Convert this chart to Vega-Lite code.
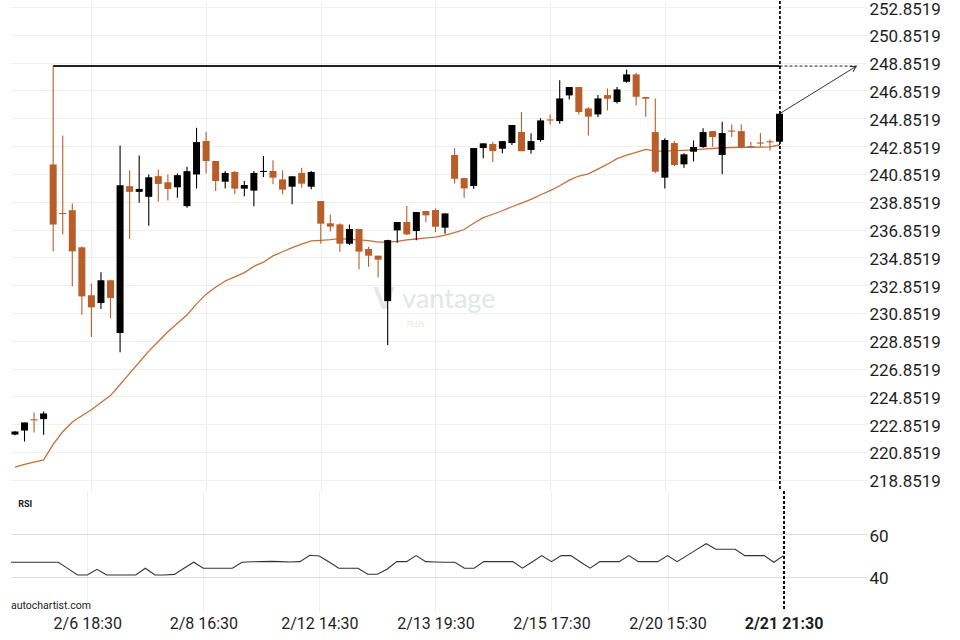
{
  "$schema": "https://vega.github.io/schema/vega-lite/v6.json",
  "padding": {"left": 11, "top": 0, "right": 0, "bottom": 0},
  "spacing": 0,
  "bounds": "flush",
  "background": "#ffffff",
  "config": {
    "font": "Roboto",
    "view": {"stroke": null},
    "concat": {"spacing": 0},
    "axis": {"title": null, "ticks": false, "domain": false, "labelColor": "#1e1e1e", "labelFont": "Roboto"}
  },
  "datasets": {
    "candles": [
      {"i":0,"o":222.1,"h":222.35,"l":222.05,"c":222.32,"ema":219.75,"rsi":46.9},
      {"i":1,"o":222.39,"h":222.97,"l":221.6,"c":222.97,"ema":219.95,"rsi":46.9},
      {"i":2,"o":223.2,"h":223.69,"l":222.25,"c":223.12,"ema":220.12,"rsi":46.9},
      {"i":3,"o":223.21,"h":223.76,"l":222.08,"c":223.62,"ema":220.28,"rsi":46.9},
      {"i":4,"o":241.53,"h":248.61,"l":235.28,"c":237.21,"ema":221.4,"rsi":46.9},
      {"i":5,"o":238.04,"h":243.62,"l":236.49,"c":237.96,"ema":222.3,"rsi":46.9},
      {"i":6,"o":238.24,"h":238.72,"l":232.76,"c":235.28,"ema":223.0,"rsi":43.9},
      {"i":7,"o":235.57,"h":235.64,"l":230.72,"c":232.04,"ema":223.45,"rsi":40.9},
      {"i":8,"o":232.12,"h":232.96,"l":229.11,"c":231.25,"ema":223.88,"rsi":40.9},
      {"i":9,"o":231.56,"h":233.77,"l":231.13,"c":233.2,"ema":224.4,"rsi":43.6},
      {"i":10,"o":233.2,"h":233.24,"l":230.48,"c":231.92,"ema":224.9,"rsi":40.9},
      {"i":11,"o":229.4,"h":242.9,"l":228.03,"c":240.04,"ema":225.7,"rsi":40.9},
      {"i":12,"o":239.97,"h":241.12,"l":236.17,"c":239.56,"ema":226.5,"rsi":40.9},
      {"i":13,"o":239.56,"h":242.18,"l":238.77,"c":239.77,"ema":227.3,"rsi":40.9},
      {"i":14,"o":239.2,"h":240.81,"l":237.13,"c":240.61,"ema":228.1,"rsi":44.1},
      {"i":15,"o":240.69,"h":241.17,"l":238.84,"c":240.13,"ema":228.8,"rsi":40.9},
      {"i":16,"o":240.25,"h":240.81,"l":238.93,"c":239.77,"ema":229.5,"rsi":40.9},
      {"i":17,"o":239.89,"h":240.88,"l":239.13,"c":240.76,"ema":230.1,"rsi":41.2},
      {"i":18,"o":238.53,"h":241.36,"l":238.41,"c":241.05,"ema":230.7,"rsi":44.1},
      {"i":19,"o":240.81,"h":244.17,"l":239.8,"c":243.14,"ema":231.5,"rsi":46.9},
      {"i":20,"o":243.22,"h":243.87,"l":240.89,"c":241.78,"ema":232.2,"rsi":44.1},
      {"i":21,"o":241.78,"h":241.78,"l":239.62,"c":240.34,"ema":232.7,"rsi":44.1},
      {"i":22,"o":240.29,"h":241.06,"l":239.81,"c":240.92,"ema":233.15,"rsi":44.1},
      {"i":23,"o":240.99,"h":241.06,"l":239.38,"c":239.79,"ema":233.45,"rsi":44.1},
      {"i":24,"o":239.79,"h":240.34,"l":239.24,"c":240.05,"ema":233.75,"rsi":46.9},
      {"i":25,"o":239.65,"h":241.06,"l":238.52,"c":240.92,"ema":234.2,"rsi":47.1},
      {"i":26,"o":240.99,"h":242.14,"l":240.63,"c":241.07,"ema":234.5,"rsi":47.2},
      {"i":27,"o":241.06,"h":241.83,"l":240.1,"c":240.58,"ema":234.95,"rsi":47.3},
      {"i":28,"o":240.46,"h":241.11,"l":239.38,"c":239.72,"ema":235.25,"rsi":47.2},
      {"i":29,"o":239.93,"h":240.68,"l":238.66,"c":240.68,"ema":235.55,"rsi":47.0},
      {"i":30,"o":240.92,"h":241.3,"l":239.86,"c":240.15,"ema":235.8,"rsi":47.2},
      {"i":31,"o":239.93,"h":241.06,"l":239.74,"c":240.99,"ema":236.03,"rsi":50.2},
      {"i":32,"o":238.9,"h":238.9,"l":235.83,"c":237.27,"ema":236.07,"rsi":49.8},
      {"i":33,"o":237.3,"h":237.94,"l":236.7,"c":237.06,"ema":236.12,"rsi":47.0},
      {"i":34,"o":237.22,"h":237.3,"l":235.26,"c":235.83,"ema":236.19,"rsi":44.1},
      {"i":35,"o":235.83,"h":237.22,"l":235.74,"c":236.89,"ema":236.15,"rsi":44.1},
      {"i":36,"o":236.89,"h":236.89,"l":233.99,"c":235.26,"ema":236.1,"rsi":44.1},
      {"i":37,"o":235.45,"h":235.62,"l":234.18,"c":234.97,"ema":236.05,"rsi":41.25},
      {"i":38,"o":234.97,"h":234.97,"l":233.39,"c":234.68,"ema":235.95,"rsi":41.25},
      {"i":39,"o":231.7,"h":236.12,"l":228.55,"c":236.09,"ema":235.95,"rsi":43.6},
      {"i":40,"o":236.79,"h":237.39,"l":235.9,"c":237.39,"ema":236.0,"rsi":47.2},
      {"i":41,"o":237.39,"h":238.54,"l":236.43,"c":236.5,"ema":236.1,"rsi":47.2},
      {"i":42,"o":236.74,"h":238.11,"l":236.07,"c":238.11,"ema":236.17,"rsi":50.0},
      {"i":43,"o":238.18,"h":238.18,"l":237.39,"c":237.87,"ema":236.25,"rsi":47.2},
      {"i":44,"o":238.25,"h":238.37,"l":236.67,"c":237.05,"ema":236.31,"rsi":47.0},
      {"i":45,"o":236.98,"h":238.01,"l":236.55,"c":238.01,"ema":236.45,"rsi":46.9},
      {"i":46,"o":242.21,"h":242.69,"l":240.17,"c":240.5,"ema":236.62,"rsi":46.9},
      {"i":47,"o":240.55,"h":240.55,"l":239.14,"c":239.81,"ema":236.85,"rsi":44.1},
      {"i":48,"o":239.98,"h":242.71,"l":239.79,"c":242.71,"ema":237.3,"rsi":44.1},
      {"i":49,"o":242.71,"h":243.05,"l":241.97,"c":243.05,"ema":237.7,"rsi":47.2},
      {"i":50,"o":243.0,"h":243.17,"l":241.7,"c":242.49,"ema":237.95,"rsi":47.2},
      {"i":51,"o":242.66,"h":243.21,"l":242.33,"c":243.21,"ema":238.2,"rsi":47.2},
      {"i":52,"o":243.07,"h":244.37,"l":242.93,"c":244.37,"ema":238.49,"rsi":47.2},
      {"i":53,"o":243.86,"h":245.3,"l":242.49,"c":242.49,"ema":238.75,"rsi":44.1},
      {"i":54,"o":242.57,"h":243.77,"l":242.3,"c":243.21,"ema":239.02,"rsi":47.0},
      {"i":55,"o":243.29,"h":244.85,"l":243.17,"c":244.7,"ema":239.35,"rsi":50.0},
      {"i":56,"o":244.77,"h":245.13,"l":244.41,"c":244.69,"ema":239.65,"rsi":47.2},
      {"i":57,"o":244.65,"h":247.58,"l":244.46,"c":246.28,"ema":240.0,"rsi":50.0},
      {"i":58,"o":246.5,"h":247.1,"l":246.21,"c":247.1,"ema":240.4,"rsi":50.0},
      {"i":59,"o":247.1,"h":247.1,"l":245.13,"c":245.3,"ema":240.7,"rsi":47.0},
      {"i":60,"o":245.56,"h":245.66,"l":243.62,"c":244.97,"ema":240.86,"rsi":44.1},
      {"i":61,"o":245.13,"h":246.52,"l":244.94,"c":246.28,"ema":241.2,"rsi":47.2},
      {"i":62,"o":246.52,"h":247.0,"l":245.42,"c":246.26,"ema":241.55,"rsi":47.2},
      {"i":63,"o":246.02,"h":247.1,"l":245.92,"c":246.93,"ema":241.95,"rsi":47.2},
      {"i":64,"o":247.48,"h":248.37,"l":247.41,"c":248.01,"ema":242.2,"rsi":50.0},
      {"i":65,"o":248.01,"h":248.13,"l":245.78,"c":246.4,"ema":242.4,"rsi":47.2},
      {"i":66,"o":246.38,"h":246.38,"l":244.97,"c":246.26,"ema":242.61,"rsi":47.2},
      {"i":67,"o":243.86,"h":246.28,"l":240.89,"c":241.01,"ema":242.49,"rsi":47.2},
      {"i":68,"o":240.58,"h":243.41,"l":239.81,"c":243.29,"ema":242.49,"rsi":50.0},
      {"i":69,"o":243.07,"h":243.21,"l":241.42,"c":241.49,"ema":242.52,"rsi":47.2},
      {"i":70,"o":241.54,"h":242.33,"l":241.3,"c":242.26,"ema":242.55,"rsi":50.0},
      {"i":71,"o":242.45,"h":243.26,"l":241.75,"c":242.78,"ema":242.58,"rsi":52.8},
      {"i":72,"o":242.78,"h":244.13,"l":242.73,"c":243.86,"ema":242.63,"rsi":55.6},
      {"i":73,"o":243.93,"h":243.93,"l":242.81,"c":243.5,"ema":242.68,"rsi":53.0},
      {"i":74,"o":242.21,"h":244.61,"l":240.82,"c":243.79,"ema":242.73,"rsi":53.0},
      {"i":75,"o":243.97,"h":244.41,"l":243.5,"c":243.89,"ema":242.75,"rsi":53.0},
      {"i":76,"o":243.93,"h":244.41,"l":242.69,"c":242.73,"ema":242.76,"rsi":50.0},
      {"i":77,"o":242.84,"h":243.14,"l":242.69,"c":242.76,"ema":242.77,"rsi":50.0},
      {"i":78,"o":243.11,"h":243.79,"l":242.81,"c":243.03,"ema":242.78,"rsi":50.0},
      {"i":79,"o":243.2,"h":243.33,"l":242.54,"c":243.12,"ema":242.8,"rsi":46.9},
      {"i":80,"o":243.17,"h":245.18,"l":242.93,"c":245.18,"ema":242.93,"rsi":50.0}
    ]
  },
  "vconcat": [
    {
      "width": 856,
      "height": 490,
      "data": {"name": "candles"},
      "layer": [
        {
          "data": {"values": [{}]},
          "mark": {"type": "text", "text": "vantage", "fontSize": 27, "font": "Lato", "color": "#e3e6e6", "align": "center", "baseline": "middle"},
          "encoding": {
            "x": {"datum": 45.4, "type": "quantitative", "scale": {"domain": [0.11, 88.63], "nice": false, "zero": false}},
            "y": {"datum": 231.75, "type": "quantitative", "scale": {"domain": [218.04, 253.29], "nice": false, "zero": false}}
          }
        },
        {
          "data": {"values": [{}]},
          "mark": {"type": "text", "text": "PLUS", "fontSize": 8, "font": "Lato", "fontStyle": "italic", "color": "#f6e3d8", "align": "left", "baseline": "middle"},
          "encoding": {
            "x": {"datum": 41.0, "type": "quantitative"},
            "y": {"datum": 230.0, "type": "quantitative"}
          }
        },
        {
          "data": {"values": [{}]},
          "mark": {"type": "text", "text": "V", "fontSize": 30, "font": "Lato", "fontWeight": "bold", "color": "#e6e8e8", "align": "center", "baseline": "middle"},
          "encoding": {
            "x": {"datum": 38.6, "type": "quantitative"},
            "y": {"datum": 231.8, "type": "quantitative"}
          }
        },
        {
          "mark": {"type": "line", "color": "#c4703c", "strokeWidth": 1.3, "clip": true},
          "encoding": {
            "x": {"field": "i", "type": "quantitative", "scale": {"domain": [0.11, 88.63], "nice": false, "zero": false},
                  "axis": {"values": [8, 20, 32, 44, 56, 68, 80], "tickCount": 40, "labels": false, "labelPadding": 0, "tickSize": 0, "minExtent": 0, "maxExtent": 0, "grid": true, "gridColor": "#efefef"}},
            "y": {"field": "ema", "type": "quantitative", "scale": {"domain": [218.04, 253.29], "nice": false, "zero": false},
                  "axis": {"orient": "right", "values": [218.8519, 220.8519, 222.8519, 224.8519, 226.8519, 228.8519, 230.8519, 232.8519, 234.8519, 236.8519, 238.8519, 240.8519, 242.8519, 244.8519, 246.8519, 248.8519, 250.8519, 252.8519],
                           "tickCount": 40, "format": ".4f", "labelFontSize": 17, "labelPadding": 2, "labelOverlap": false, "grid": true, "gridColor": "#f0f0f0", "labelOffset": 2}}
          }
        },
        {
          "mark": {"type": "rule", "strokeWidth": 1.1, "clip": true},
          "encoding": {
            "x": {"field": "i", "type": "quantitative"},
            "y": {"field": "l", "type": "quantitative"},
            "y2": {"field": "h"},
            "color": {"condition": {"test": "datum.c > datum.o", "value": "#000000"}, "value": "#b95e28"}
          }
        },
        {
          "mark": {"type": "bar", "width": 7, "clip": true},
          "encoding": {
            "x": {"field": "i", "type": "quantitative"},
            "y": {"field": "o", "type": "quantitative"},
            "y2": {"field": "c"},
            "color": {"condition": {"test": "datum.c > datum.o", "value": "#000000"}, "value": "#b95e28"}
          }
        },
        {
          "data": {"values": [{"x": 4, "x2": 80, "y": 248.61}]},
          "mark": {"type": "rule", "color": "#222222", "strokeWidth": 2},
          "encoding": {
            "x": {"field": "x", "type": "quantitative"},
            "x2": {"field": "x2"},
            "y": {"field": "y", "type": "quantitative"}
          }
        },
        {
          "data": {"values": [{"x": 80, "x2": 88.1, "y": 248.61}]},
          "mark": {"type": "rule", "color": "#222222", "strokeWidth": 1, "strokeDash": [3, 2]},
          "encoding": {
            "x": {"field": "x", "type": "quantitative"},
            "x2": {"field": "x2"},
            "y": {"field": "y", "type": "quantitative"}
          }
        },
        {
          "data": {"values": [{"x": 80, "y": 245.18}, {"x": 88.0, "y": 248.58}]},
          "mark": {"type": "line", "color": "#333333", "strokeWidth": 1},
          "encoding": {
            "x": {"field": "x", "type": "quantitative"},
            "y": {"field": "y", "type": "quantitative"}
          }
        },
        {
          "data": {"values": [{"x": 88.0, "y": 248.58}]},
          "mark": {"type": "point", "shape": "M -1 -0.58 L 0 0 L -1 0.58", "filled": false, "size": 110, "angle": -30.7, "stroke": "#333333", "strokeWidth": 1, "opacity": 1},
          "encoding": {
            "x": {"field": "x", "type": "quantitative"},
            "y": {"field": "y", "type": "quantitative"}
          }
        },
        {
          "mark": {"type": "rule", "color": "#111111", "strokeWidth": 1, "strokeDash": [3, 2]},
          "encoding": {
            "x": {"datum": 80, "type": "quantitative"}
          }
        }
      ]
    },
    {
      "width": 856,
      "height": 120,
      "data": {"name": "candles"},
      "layer": [
        {
          "mark": {"type": "line", "color": "#333333", "strokeWidth": 1.1, "clip": true},
          "encoding": {
            "x": {"field": "i", "type": "quantitative", "scale": {"domain": [0.11, 88.63], "nice": false, "zero": false},
                  "axis": {"values": [8, 20, 32, 44, 56, 68, 80], "tickCount": 40, "grid": true, "gridColor": "#efefef", "labelFontSize": 16, "labelPadding": 4.5,
                           "labelExpr": "datum.value == 8 ? '2/6 18:30' : datum.value == 20 ? '2/8 16:30' : datum.value == 32 ? '2/12 14:30' : datum.value == 44 ? '2/13 19:30' : datum.value == 56 ? '2/15 17:30' : datum.value == 68 ? '2/20 15:30' : '2/21 21:30'",
                           "labelFontWeight": {"condition": {"test": "datum.value == 80", "value": "bold"}, "value": "normal"}}},
            "y": {"field": "rsi", "type": "quantitative", "scale": {"domain": [24.04, 80.3], "nice": false, "zero": false},
                  "axis": {"orient": "right", "values": [40, 60], "tickCount": 10, "labelFontSize": 17, "labelPadding": 2, "grid": true, "gridColor": "#dcdcdc", "labelOffset": 2}}
          }
        },
        {
          "mark": {"type": "rule", "color": "#111111", "strokeWidth": 1, "strokeDash": [3, 2]},
          "encoding": {
            "x": {"datum": 80, "type": "quantitative"}
          }
        },
        {
          "data": {"values": [{}]},
          "mark": {"type": "text", "text": "RSI", "fontSize": 9, "fontWeight": "bold", "color": "#222222", "align": "left", "baseline": "middle"},
          "encoding": {
            "x": {"datum": 0.85, "type": "quantitative"},
            "y": {"datum": 74.2, "type": "quantitative"}
          }
        },
        {
          "data": {"values": [{}]},
          "mark": {"type": "text", "text": "autochartist.com", "fontSize": 10.5, "color": "#222222", "align": "left", "baseline": "middle"},
          "encoding": {
            "x": {"datum": 0.11, "type": "quantitative"},
            "y": {"datum": 26.4, "type": "quantitative"}
          }
        }
      ]
    }
  ]
}
